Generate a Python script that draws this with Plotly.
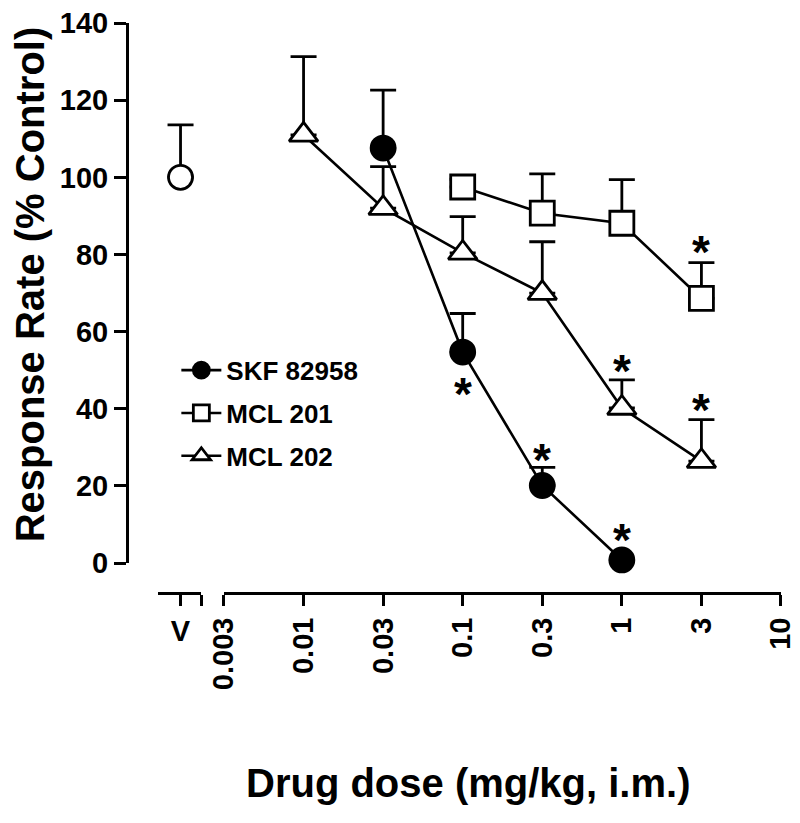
import plotly.graph_objects as go

# ---------------- data ----------------
dose_labels = ["0.003", "0.01", "0.03", "0.1", "0.3", "1", "3", "10"]
y_ticks = [0, 20, 40, 60, 80, 100, 120, 140]

veh_x = [0]
veh_mean = [100.0]
veh_sem = [13.6]

skf_x = ["0.03", "0.1", "0.3", "1"]
skf_mean = [107.6, 54.7, 20.1, 0.8]
skf_sem = [15.0, 10.0, 4.7, 0.0]

m201_x = ["0.1", "0.3", "1", "3"]
m201_mean = [97.5, 90.7, 88.1, 68.6]
m201_sem = [2.0, 10.2, 11.3, 9.3]

m202_x = ["0.01", "0.03", "0.1", "0.3", "1", "3"]
m202_mean = [111.0, 92.0, 80.4, 70.0, 40.2, 26.4]
m202_sem = [20.3, 10.8, 9.4, 13.3, 7.3, 10.8]

# significance stars
star_series = ["skf", "skf", "skf", "m201", "m202", "m202"]
star_dose = ["0.1", "0.3", "1", "3", "1", "3"]
star_below = [True, False, False, False, False, False]
star_gap_px = [-35, 14, 27, 18, 16, 17]

FONT = "Liberation Sans, Arial, sans-serif"
BLACK = "#000000"

fig = go.Figure()


def add_series(name, xs, ys, sem, symbol, fill, size, xaxis="x", showlegend=True):
    fig.add_trace(go.Scatter(
        x=xs, y=ys, name=name, mode="lines+markers",
        xaxis=xaxis, yaxis="y",
        line=dict(color=BLACK, width=2.6),
        marker=dict(symbol=symbol, size=size, color=fill,
                    line=dict(color=BLACK, width=2.8)),
        error_y=dict(type="data", array=sem, arrayminus=[0] * len(sem),
                     symmetric=False, color=BLACK, thickness=2.8, width=13),
        cliponaxis=False, showlegend=showlegend, legendgroup=name,
    ))


add_series("SKF 82958", skf_x, skf_mean, skf_sem, "circle", BLACK, 24)
add_series("MCL 201", m201_x, m201_mean, m201_sem, "square", "white", 24)
add_series("MCL 202", m202_x, m202_mean, m202_sem, "triangle-up", "white", 25)
add_series("Vehicle", veh_x, veh_mean, veh_sem, "circle", "white", 24,
           xaxis="x2", showlegend=False)

# stars
series_data = {
    "skf": (skf_x, skf_mean, skf_sem),
    "m201": (m201_x, m201_mean, m201_sem),
    "m202": (m202_x, m202_mean, m202_sem),
}
for s, d, below, gap in zip(star_series, star_dose, star_below, star_gap_px):
    xs, ms, ss = series_data[s]
    i = xs.index(d)
    yv = ms[i] if (below or ss[i] == 0) else ms[i] + ss[i]
    fig.add_annotation(x=dose_labels.index(d), y=yv, xref="x", yref="y", text="*",
                       showarrow=False, xanchor="center", yanchor="middle",
                       yshift=gap - 7,
                       font=dict(family=FONT, size=46, color=BLACK, weight="bold"))

# axis titles
fig.add_annotation(x=-0.147, y=0.542, xref="paper", yref="paper",
                   xanchor="center", yanchor="middle",
                   text="Response Rate (% Control)", textangle=-90,
                   showarrow=False,
                   font=dict(family=FONT, size=40, color=BLACK, weight="bold"))
fig.add_annotation(x=0.518, y=-0.333, xref="paper", yref="paper",
                   xanchor="center", yanchor="middle",
                   text="Drug dose (mg/kg, i.m.)", showarrow=False,
                   font=dict(family=FONT, size=40, color=BLACK, weight="bold"))

tickfont = dict(family=FONT, size=29, color=BLACK, weight="bold")

fig.update_layout(
    width=800, height=823,
    margin=dict(l=119, r=23, t=15, b=238, autoexpand=False),
    paper_bgcolor="white", plot_bgcolor="white",
    showlegend=True,
    legend=dict(x=0.075, xanchor="left", y=0.432, yanchor="top",
                font=dict(family=FONT, size=26, color=BLACK, weight="bold"),
                bgcolor="rgba(0,0,0,0)", tracegroupgap=6, itemwidth=40),
    yaxis=dict(domain=[0.0526, 1], range=[0, 140.02], automargin=False,
               tickmode="array", tickvals=y_ticks,
               ticktext=[str(v) for v in y_ticks], ticklabeloverflow="allow",
               showline=True, linecolor=BLACK, linewidth=3, ticks="outside",
               ticklen=12, tickwidth=3, tickcolor=BLACK, showgrid=False,
               zeroline=False, tickfont=tickfont, anchor="free", position=0),
    xaxis=dict(domain=[0.1474, 0.9939], type="category", automargin=False,
               categoryorder="array", categoryarray=dose_labels,
               tickmode="array", tickvals=dose_labels, ticktext=dose_labels,
               range=[0, 7], tickangle=-90,
               showline=True, linecolor=BLACK, linewidth=3, ticks="outside",
               ticklen=11, tickwidth=3, tickcolor=BLACK, showgrid=False,
               zeroline=False, tickfont=tickfont, anchor="free", position=0),
    xaxis2=dict(domain=[0.0471, 0.1125], range=[-1.1, 1.0], automargin=False,
                tickmode="array", tickvals=[0, 1], ticktext=["V", ""],
                tickangle=0,
                showline=True, linecolor=BLACK, linewidth=3, ticks="outside",
                ticklen=11, tickwidth=3, tickcolor=BLACK, showgrid=False,
                zeroline=False, tickfont=tickfont, anchor="free", position=0),
)

fig.write_html("out.html")
